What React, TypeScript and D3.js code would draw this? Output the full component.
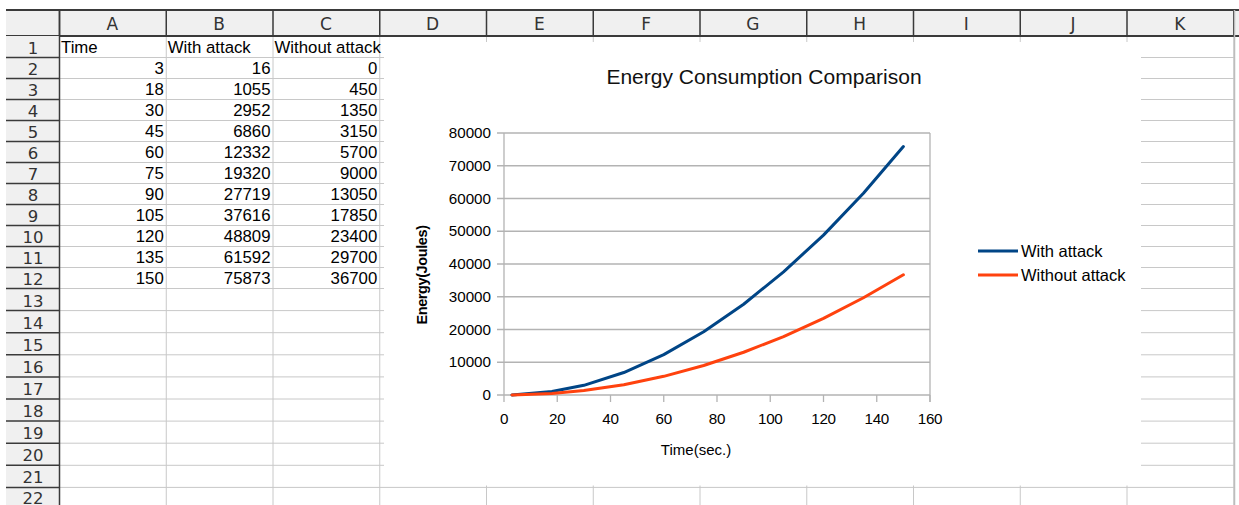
import { useEffect, useRef } from "react";
import * as d3 from "d3";

// sheet contents
const headers = ["Time", "With attack", "Without attack"];
const times = [3, 18, 30, 45, 60, 75, 90, 105, 120, 135, 150];
const withAttack = [16, 1055, 2952, 6860, 12332, 19320, 27719, 37616, 48809, 61592, 75873];
const withoutAttack = [0, 450, 1350, 3150, 5700, 9000, 13050, 17850, 23400, 29700, 36700];
const colLetters = ["A", "B", "C", "D", "E", "F", "G", "H", "I", "J", "K"];
const xTicks = [0, 20, 40, 60, 80, 100, 120, 140, 160];
const yTicks = [0, 10000, 20000, 30000, 40000, 50000, 60000, 70000, 80000];
const seriesNames = ["With attack", "Without attack"];
const seriesColors = ["#004586", "#ff420e"];

const W = 1239,
  H = 505;
const FONT = "'Liberation Sans', Arial, sans-serif";
const UI_FONT = "'DejaVu Sans', sans-serif";

export default function App() {
  const ref = useRef<SVGSVGElement>(null);

  useEffect(() => {
    document.body.style.margin = "0";
    const svg = d3.select(ref.current!);
    svg.selectAll("*").remove();

    /* ── GRID GEOMETRY ───────────────────────── */
    const colX = d3.range(12).map((i) => 59 + 106.75 * i); // 59 .. 1234
    const rowY: number[] = [36];
    for (let r = 1; r <= 22; r++) rowY.push(rowY[r - 1] + (r <= 12 ? 21 : 22.1));

    svg.append("rect").attr("width", W).attr("height", H).attr("fill", "#fff");

    // cell grid lines
    const grid = svg.append("g").attr("stroke", "#c8c8c8").attr("stroke-width", 1);
    colX.forEach((x) =>
      grid.append("line").attr("x1", x + 0.5).attr("x2", x + 0.5).attr("y1", 36).attr("y2", H)
    );
    rowY.slice(1).forEach((y) =>
      grid.append("line").attr("x1", 59).attr("x2", 1234).attr("y1", y + 0.5).attr("y2", y + 0.5)
    );

    // cell texts
    const cells = svg.append("g").attr("font-family", FONT).attr("font-size", 16.8).attr("fill", "#000");
    headers.forEach((t, i) =>
      cells.append("text").attr("x", colX[i] + 2).attr("y", rowY[1] - 4.5).text(t)
    );
    const cols = [times, withAttack, withoutAttack];
    cols.forEach((vals, c) =>
      vals.forEach((v, r) =>
        cells
          .append("text")
          .attr("x", colX[c + 1] - 2)
          .attr("y", rowY[r + 2] - 4.5)
          .attr("text-anchor", "end")
          .text(v)
      )
    );

    // column header
    svg.append("rect").attr("x", 6).attr("y", 10).attr("width", 1228).attr("height", 26).attr("fill", "#f0f0f0");
    svg.append("rect").attr("x", 1234).attr("y", 10).attr("width", 5).attr("height", 26).attr("fill", "#f0f0f0");
    const hdr = svg.append("g").attr("stroke", "#3a3a3a");
    hdr.append("line").attr("x1", 6).attr("x2", W).attr("y1", 10).attr("y2", 10).attr("stroke-width", 2);
    hdr.append("line").attr("x1", 6).attr("x2", W).attr("y1", 36).attr("y2", 36).attr("stroke-width", 2);
    colX.forEach((x) =>
      hdr.append("line").attr("x1", x + 0.5).attr("x2", x + 0.5).attr("y1", 10).attr("y2", 36).attr("stroke-width", 1.5)
    );
    colLetters.forEach((l, i) =>
      svg
        .append("text")
        .attr("x", (colX[i] + colX[i + 1]) / 2)
        .attr("y", 30)
        .attr("text-anchor", "middle")
        .attr("font-family", UI_FONT)
        .attr("font-size", 17)
        .attr("fill", "#333")
        .text(l)
    );

    // row header
    svg.append("rect").attr("x", 6).attr("y", 36).attr("width", 53).attr("height", H - 36).attr("fill", "#f0f0f0");
    svg.append("line").attr("x1", 59.5).attr("x2", 59.5).attr("y1", 10).attr("y2", H).attr("stroke", "#3a3a3a").attr("stroke-width", 1.5);
    rowY.slice(1).forEach((y, i) => {
      svg.append("line").attr("x1", 6).attr("x2", 59).attr("y1", y + 0.5).attr("y2", y + 0.5).attr("stroke", "#3a3a3a").attr("stroke-width", 1.5);
      svg
        .append("text")
        .attr("x", 33)
        .attr("y", Math.min(y - 3.5, H - 1))
        .attr("text-anchor", "middle")
        .attr("font-family", UI_FONT)
        .attr("font-size", 16.5)
        .attr("fill", "#333")
        .text(i + 1);
    });
    svg.append("line").attr("x1", 1234.5).attr("x2", 1234.5).attr("y1", 10).attr("y2", H).attr("stroke", "#bdbdbd").attr("stroke-width", 1.5);

    /* ── CHART OBJECT ────────────────────────── */
    svg.append("rect").attr("x", 384).attr("y", 42).attr("width", 757).attr("height", 443.5).attr("fill", "#fff");

    const x = d3.scaleLinear().domain([0, 160]).range([504, 930]);
    const y = d3.scaleLinear().domain([0, 80000]).range([395, 133]);

    svg
      .append("text")
      .attr("x", 764)
      .attr("y", 84)
      .attr("text-anchor", "middle")
      .attr("font-family", FONT)
      .attr("font-size", 21)
      .attr("fill", "#111")
      .text("Energy Consumption Comparison");

    // gridlines + frame
    const frame = svg.append("g").attr("stroke", "#b3b3b3").attr("stroke-width", 1.3).attr("fill", "none");
    yTicks.forEach((t) =>
      frame.append("line").attr("x1", 497).attr("x2", x(160)).attr("y1", y(t)).attr("y2", y(t))
    );
    xTicks.forEach((t) =>
      frame.append("line").attr("x1", x(t)).attr("x2", x(t)).attr("y1", y(0)).attr("y2", y(0) + 7)
    );
    frame.append("line").attr("x1", x(0)).attr("x2", x(0)).attr("y1", y(80000)).attr("y2", y(0));
    frame.append("line").attr("x1", x(160)).attr("x2", x(160)).attr("y1", y(80000)).attr("y2", y(0) + 7);

    const tickTxt = svg.append("g").attr("font-family", FONT).attr("font-size", 15.2).attr("fill", "#000");
    yTicks.forEach((t) =>
      tickTxt
        .append("text")
        .attr("x", 491)
        .attr("y", y(t) + 5)
        .attr("text-anchor", "end")
        .text(t)
    );
    xTicks.forEach((t) =>
      tickTxt
        .append("text")
        .attr("x", x(t))
        .attr("y", 424)
        .attr("text-anchor", "middle")
        .attr("letter-spacing", -0.3)
        .text(t)
    );

    svg
      .append("text")
      .attr("x", 696)
      .attr("y", 455)
      .attr("text-anchor", "middle")
      .attr("font-family", FONT)
      .attr("font-size", 15)
      .text("Time(sec.)");
    svg
      .append("text")
      .attr("transform", "translate(427,275) rotate(-90)")
      .attr("text-anchor", "middle")
      .attr("font-family", FONT)
      .attr("font-size", 14.5)
      .attr("font-weight", "bold")
      .attr("letter-spacing", -0.4)
      .text("Energy(Joules)");

    /* ── SERIES ──────────────────────────────── */
    const line = d3
      .line<number>()
      .x((_, i) => x(times[i]))
      .y((d) => y(d));
    [withAttack, withoutAttack].forEach((vals, i) =>
      svg
        .append("path")
        .datum(vals)
        .attr("d", line)
        .attr("fill", "none")
        .attr("stroke", seriesColors[i])
        .attr("stroke-width", 3)
        .attr("stroke-linejoin", "round")
        .attr("stroke-linecap", "round")
    );

    /* ── LEGEND ──────────────────────────────── */
    seriesNames.forEach((name, i) => {
      const ly = 251 + i * 24;
      svg.append("line").attr("x1", 978).attr("x2", 1018).attr("y1", ly).attr("y2", ly).attr("stroke", seriesColors[i]).attr("stroke-width", 3);
      svg
        .append("text")
        .attr("x", 1021)
        .attr("y", ly + 5.5)
        .attr("font-family", FONT)
        .attr("font-size", 16.5)
        .text(name);
    });
  }, []);

  return (
    <svg
      ref={ref}
      width={W}
      height={H}
      style={{ display: "block", position: "absolute", left: 0, top: 0 }}
    />
  );
}
